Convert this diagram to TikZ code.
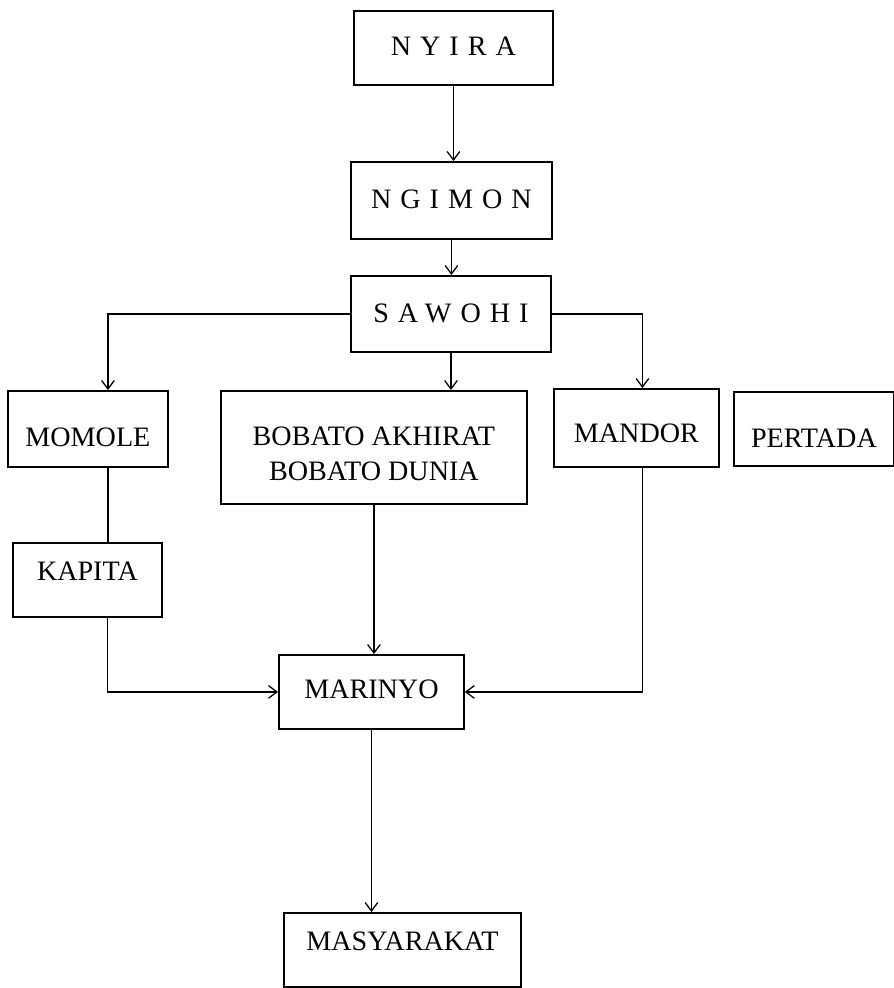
\documentclass[tikz,border=0pt]{standalone}
\usepackage{fontspec}
\setmainfont{Liberation Serif}
\newfontfamily\spacedfont[LetterSpace=32]{Liberation Serif}
\usetikzlibrary{arrows.meta}

\tikzset{
  box/.style={draw, line width=1.3pt, inner sep=0pt, anchor=north west,
    font=\fontsize{20}{25}\selectfont},
  arr/.style={line width=0.9pt, -{Straight Barb[length=6pt,width=9pt]}},
  link/.style={line width=0.9pt}
}

\begin{document}
\begin{tikzpicture}[x=0.025cm, y=-0.025cm]

        \useasboundingbox (0,0) rectangle (894,988);

        \node[box, minimum width=4.975cm, text height=1.1125cm, text depth=0.7375cm] (nyira) at (353,10) {\spacedfont NYIRA};
        \node[box, minimum width=5.025cm, text height=1.1625cm, text depth=0.7625cm] (ngimon) at (350,161) {\spacedfont NGIMON};
        \node[box, minimum width=5cm, text height=1.1625cm, text depth=0.7375cm] (sawohi) at (350,275) {\spacedfont SAWOHI};

        \node[box, minimum width=4cm, text height=1.4cm, text depth=0.5cm] (momole) at (7,390) {MOMOLE};
        \node[box, minimum width=7.65cm, text height=2.25cm, text depth=0.575cm, align=center] (bobato) at (220,390) {BOBATO AKHIRAT\\BOBATO DUNIA};
        \node[box, minimum width=4.125cm, text height=1.3375cm, text depth=0.6125cm] (mandor) at (553,388) {MANDOR};
        \node[box, minimum width=4cm, text height=1.3875cm, text depth=0.4625cm] (pertada) at (733,391) {PERTADA};

        \node[box, minimum width=3.725cm, text height=0.9375cm, text depth=0.9125cm] (kapita) at (12,542) {KAPITA};
        \node[box, minimum width=4.625cm, text height=1.0875cm, text depth=0.7625cm] (marinyo) at (278,654) {MARINYO};
        \node[box, minimum width=5.925cm, text height=0.95cm, text depth=0.9cm] (masyarakat) at (283,912) {MASYARAKAT};

        \draw[arr] (nyira.south) -- (nyira.south |- ngimon.north);
        \draw[arr] (ngimon.south) -- (ngimon.south |- sawohi.north);
        \draw[arr] (sawohi.south) -- (sawohi.south |- bobato.north);
        \draw[arr] (sawohi.west) -| ([xshift=0.5cm]momole.north);
        \draw[arr] (sawohi.east) -| ([xshift=0.15cm]mandor.north);

        \draw[link] ([xshift=0.5cm]momole.south) -- ([xshift=0.5cm]momole.south |- kapita.north);
        \draw[arr] ([xshift=0.5cm]kapita.south) |- (marinyo.west);
        \draw[arr] (bobato.south) -- (bobato.south |- marinyo.north);
        \draw[arr] ([xshift=0.15cm]mandor.south) |- (marinyo.east);
        \draw[arr] (marinyo.south) -- (marinyo.south |- masyarakat.north);

\end{tikzpicture}
\end{document}
